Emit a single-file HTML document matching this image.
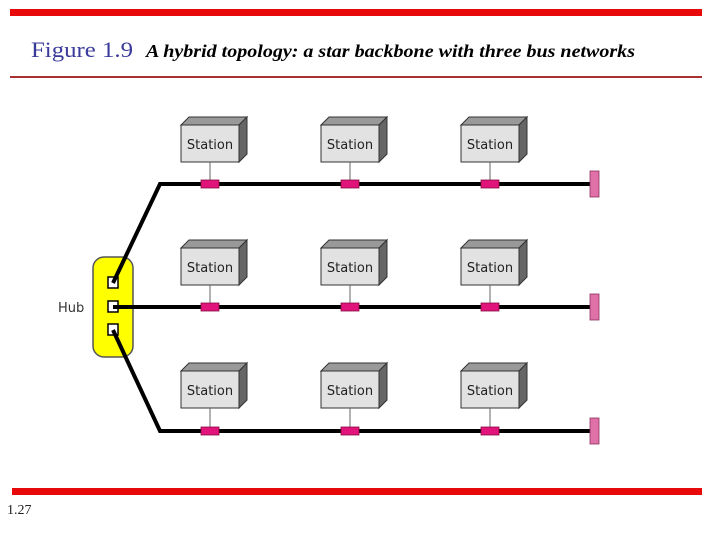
<!DOCTYPE html>
<html><head><meta charset="utf-8"><style>
body{margin:0;background:#fff;width:720px;height:540px;overflow:hidden}
svg{display:block}
</style></head><body>
<svg width="720" height="540" viewBox="0 0 720 540" xmlns="http://www.w3.org/2000/svg">
<rect x="10" y="9" width="692" height="7" fill="#e80a0a"/>
<rect x="10" y="76" width="692" height="2" fill="#a83232"/>
<rect x="12" y="488" width="690" height="7" fill="#e80a0a"/>
<text x="31" y="57" font-family="Liberation Serif, serif" font-size="22" fill="#3a3a9a" textLength="102" lengthAdjust="spacingAndGlyphs">Figure 1.9</text>
<text x="146" y="57" font-family="Liberation Serif, serif" font-size="18" font-style="italic" font-weight="bold" fill="#000" textLength="489" lengthAdjust="spacingAndGlyphs">A hybrid topology: a star backbone with three bus networks</text>
<text x="7" y="514" font-family="Liberation Serif, serif" font-size="14" fill="#222">1.27</text>

<defs>
<g id="st">
<polygon points="0,0 8,-8 66,-8 58,0" fill="#999" stroke="#333" stroke-width="1"/>
<polygon points="58,0 66,-8 66,29 58,37" fill="#666" stroke="#333" stroke-width="1"/>
<rect x="0" y="0" width="58" height="37" fill="#e2e2e2" stroke="#333" stroke-width="1"/>
<text x="29" y="24" text-anchor="middle" font-family="DejaVu Sans, sans-serif" font-size="13" fill="#222">Station</text>
<line x1="29" y1="37" x2="29" y2="56" stroke="#666" stroke-width="1"/>
</g>
</defs>

<rect x="93" y="257" width="40" height="100" rx="11" fill="#ffff00" stroke="#555" stroke-width="1.5"/>
<text x="58" y="312" font-family="DejaVu Sans, sans-serif" font-size="13" fill="#333">Hub</text>

<g fill="#fff" stroke="#000" stroke-width="1.5">
<rect x="108" y="277" width="10" height="11"/>
<rect x="108" y="301" width="10" height="11"/>
<rect x="108" y="324" width="10" height="11"/>
</g>
<g stroke="#000" stroke-width="4" fill="none">
<polyline points="113,283 160,184 592,184"/>
<polyline points="113,307 592,307"/>
<polyline points="113,330 160,431 592,431"/>
</g>

<use href="#st" x="181" y="125"/><use href="#st" x="321" y="125"/><use href="#st" x="461" y="125"/>
<use href="#st" x="181" y="248"/><use href="#st" x="321" y="248"/><use href="#st" x="461" y="248"/>
<use href="#st" x="181" y="371"/><use href="#st" x="321" y="371"/><use href="#st" x="461" y="371"/>

<g fill="#e0147a" stroke="#8a0a40" stroke-width="0.8">
<rect x="201" y="180" width="18" height="8"/><rect x="341" y="180" width="18" height="8"/><rect x="481" y="180" width="18" height="8"/>
<rect x="201" y="303" width="18" height="8"/><rect x="341" y="303" width="18" height="8"/><rect x="481" y="303" width="18" height="8"/>
<rect x="201" y="427" width="18" height="8"/><rect x="341" y="427" width="18" height="8"/><rect x="481" y="427" width="18" height="8"/>
</g>
<g fill="#e070a8" stroke="#8a3060" stroke-width="0.8">
<rect x="590" y="171" width="9" height="26"/>
<rect x="590" y="294" width="9" height="26"/>
<rect x="590" y="418" width="9" height="26"/>
</g>
</svg>
</body></html>
